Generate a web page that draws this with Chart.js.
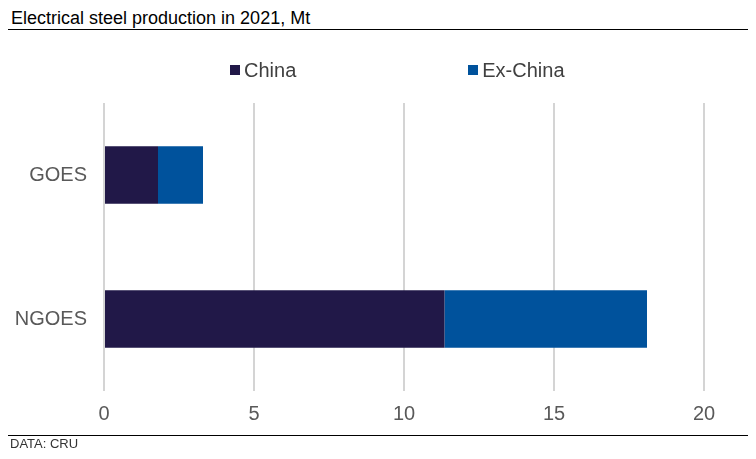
<!DOCTYPE html>
<html>
<head>
<meta charset="utf-8">
<title>Electrical steel production in 2021, Mt</title>
<script src="https://cdn.jsdelivr.net/npm/chart.js@4/dist/chart.umd.min.js"></script>
<style>
  html, body { margin: 0; padding: 0; background: #fff; }
  body { width: 756px; height: 459px; position: relative; overflow: hidden; font-family: 'Liberation Sans', Arial, sans-serif; }
  .chart-box { position: absolute; left: 0; top: 0; width: 756px; height: 459px; }
  .title { position: absolute; left: 11px; top: 9px; font-size: 18px; line-height: 18px; color: #000; white-space: nowrap; }
  .rule { position: absolute; left: 8px; width: 740px; height: 1px; background: #000; }
  .legend { position: absolute; left: 230px; top: 59px; display: flex; gap: 172px; }
  .legend__item { display: flex; align-items: center; font-size: 20px; line-height: 22px; color: #404040; }
  .legend__swatch { width: 10px; height: 10px; margin-right: 4px; }
  .source { position: absolute; left: 10px; top: 437px; font-size: 13px; line-height: 13px; color: #333; }
</style>
</head>
<body>
  <div class="title">Electrical steel production in 2021, Mt</div>
  <div class="rule" style="top: 29px;"></div>
  <div class="chart-box"><canvas id="steel-chart"></canvas></div>
  <div class="legend" id="steel-legend"></div>
  <div class="rule" style="top: 435px;"></div>
  <div class="source">DATA: CRU</div>
<script>
var categories = ['GOES', 'NGOES'];
var chinaValues = [1.8, 11.35];
var exChinaValues = [1.5, 6.75];
var xTickLabels = [0, 5, 10, 15, 20];

(function () {
  var canvas = document.getElementById('steel-chart');
  if (!canvas) return;

  var font = "'Liberation Sans', Arial, sans-serif";

  var chart = new Chart(canvas, {
    type: 'bar',
    data: {
      labels: categories,
      datasets: [{
        label: 'China',
        data: chinaValues,
        backgroundColor: '#211848'
      }, {
        label: 'Ex-China',
        data: exChinaValues,
        backgroundColor: '#00529c'
      }]
    },
    options: {
      indexAxis: 'y',
      responsive: true,
      maintainAspectRatio: false,
      animation: false,
      layout: {
        padding: { top: 103, right: 52, bottom: 0, left: 0 }
      },
      plugins: {
        legend: { display: false },
        tooltip: { enabled: false }
      },
      datasets: {
        bar: { categoryPercentage: 1, barPercentage: 0.4 }
      },
      scales: {
        x: {
          stacked: true,
          min: xTickLabels[0],
          max: xTickLabels[xTickLabels.length - 1],
          afterBuildTicks: function (scale) {
            scale.ticks = xTickLabels.map(function (v) { return { value: v }; });
          },
          afterFit: function (scale) { scale.height = 68; }, // chart area ends at y=391
          border: { display: false },
          grid: { color: '#d4d4d4', lineWidth: 2, drawTicks: false },
          ticks: {
            padding: 11,
            color: '#595959',
            font: { family: font, size: 20 }
          }
        },
        y: {
          stacked: true,
          afterFit: function (scale) { scale.width = 104; },
          border: { display: false },
          grid: { display: false, drawTicks: false },
          ticks: {
            padding: 17,
            color: '#595959',
            font: { family: font, size: 20 }
          }
        }
      }
    }
  });

  // html legend built from the datasets
  var legend = document.getElementById('steel-legend');
  chart.data.datasets.forEach(function (ds) {
    var item = document.createElement('div');
    item.className = 'legend__item';
    var swatch = document.createElement('span');
    swatch.className = 'legend__swatch';
    swatch.style.background = ds.backgroundColor;
    item.appendChild(swatch);
    item.appendChild(document.createTextNode(ds.label));
    legend.appendChild(item);
  });
}());
</script>
</body>
</html>
